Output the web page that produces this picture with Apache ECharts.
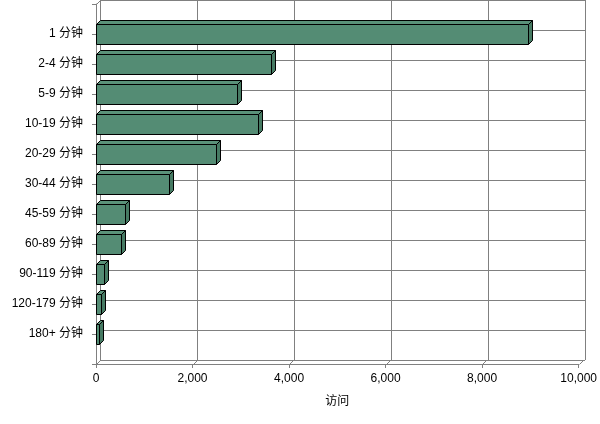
<!DOCTYPE html>
<html>
<head>
<meta charset="utf-8">
<script src="https://cdn.jsdelivr.net/npm/echarts@6/dist/echarts.min.js"></script>
<style>
html,body{margin:0;padding:0;background:#fff;}
#chart{width:600px;height:424px;}
</style>
</head>
<body>
<div id="chart"></div>
<script>
const categories = ['1 分钟','2-4 分钟','5-9 分钟','10-19 分钟','20-29 分钟','30-44 分钟','45-59 分钟','60-89 分钟','90-119 分钟','120-179 分钟','180+ 分钟'];
const visits = [8950, 3620, 2920, 3365, 2495, 1505, 600, 510, 165, 95, 70];
const xTicks = [0, 2000, 4000, 6000, 8000, 10000];
const axisName = '访问';

const DEPTH = 4;
const BAR_H = 20;
const FONT = '"Liberation Sans", Arial, "Noto Sans CJK SC", sans-serif';
const GRID_C = '#808080';

const chart = echarts.init(document.getElementById('chart'), null, {renderer: 'canvas'});
const snap = v => Math.round(v) + 0.5;

const barData = visits.map((v, i) => [v, i]);
const frameData = xTicks.map(t => [t, categories.length]);

const option = {
  animation: false,
  grid: [
    {left: 96, right: 18, top: 4, bottom: 60},
    {left: 100, right: 15, top: 0, bottom: 64}
  ],
  xAxis: [
    {
      type: 'value', gridIndex: 0, min: 0, max: 10000, interval: 2000,
      axisLine: {show: true, onZero: false, lineStyle: {color: GRID_C}},
      axisTick: {show: true, length: 4, lineStyle: {color: GRID_C}},
      splitLine: {show: false},
      axisLabel: {margin: 9, color: '#000', fontFamily: FONT, fontSize: 12,
        formatter: v => v.toLocaleString('en-US')},
      name: axisName, nameLocation: 'middle', nameGap: 32,
      nameTextStyle: {color: '#000', fontFamily: FONT, fontSize: 12}
    },
    {
      type: 'value', gridIndex: 1, min: 0, max: 10000, interval: 2000,
      axisLine: {show: false, onZero: false}, axisTick: {show: false}, axisLabel: {show: false},
      splitLine: {show: true, lineStyle: {color: GRID_C, width: 1}}
    }
  ],
  yAxis: [
    {
      type: 'value', gridIndex: 0, min: -1, max: categories.length, interval: 1, inverse: true,
      axisLine: {show: true, onZero: false, lineStyle: {color: GRID_C}},
      axisTick: {show: true, length: 4, lineStyle: {color: GRID_C}},
      splitLine: {show: false},
      axisLabel: {margin: 13, color: '#000', fontFamily: FONT, fontSize: 12,
        formatter: v => (categories[v] !== undefined ? categories[v] : '')}
    },
    {
      type: 'value', gridIndex: 1, min: -1, max: categories.length, interval: 1, inverse: true,
      axisLine: {show: false, onZero: false}, axisTick: {show: false}, axisLabel: {show: false},
      splitLine: {show: true, lineStyle: {color: GRID_C, width: 1}}
    }
  ],
  series: [
    {
      type: 'custom', xAxisIndex: 0, yAxisIndex: 0, z: 3,
      data: frameData,
      encode: {x: 0, y: 1},
      renderItem(params, api) {
        const p = api.coord([api.value(0), api.value(1)]);
        const children = [{
          type: 'line',
          shape: {x1: snap(p[0]), y1: snap(p[1]), x2: snap(p[0]) + DEPTH, y2: snap(p[1]) - DEPTH},
          style: {stroke: GRID_C, lineWidth: 1}
        }];
        if (params.dataIndex === 0) {
          const t = api.coord([api.value(0), -1]);
          children.push({
            type: 'line',
            shape: {x1: snap(t[0]), y1: snap(t[1]), x2: snap(t[0]) + DEPTH, y2: snap(t[1]) - DEPTH},
            style: {stroke: GRID_C, lineWidth: 1}
          });
        }
        return {type: 'group', children};
      }
    },
    {
      type: 'custom', xAxisIndex: 0, yAxisIndex: 0, z: 5,
      data: barData,
      encode: {x: 0, y: 1},
      renderItem(params, api) {
        const v = api.value(0), i = api.value(1);
        const p0 = api.coord([0, i]);
        const p1 = api.coord([v, i]);
        const x0 = snap(p0[0]), x1 = snap(p1[0]);
        const y0 = snap(p0[1] - BAR_H / 2), y1 = y0 + BAR_H;
        const d = DEPTH;
        const stroke = {stroke: '#000', lineWidth: 1};
        return {
          type: 'group',
          children: [
            {type: 'polygon', shape: {points: [[x0, y0], [x0 + d, y0 - d], [x1 + d, y0 - d], [x1, y0]]},
              style: Object.assign({fill: '#5a9279'}, stroke)},
            {type: 'polygon', shape: {points: [[x1, y0], [x1 + d, y0 - d], [x1 + d, y1 - d], [x1, y1]]},
              style: Object.assign({fill: '#467a63'}, stroke)},
            {type: 'rect', shape: {x: x0, y: y0, width: x1 - x0, height: BAR_H},
              style: Object.assign({fill: '#548c74'}, stroke)}
          ]
        };
      }
    }
  ]
};
chart.setOption(option);
</script>
</body>
</html>
